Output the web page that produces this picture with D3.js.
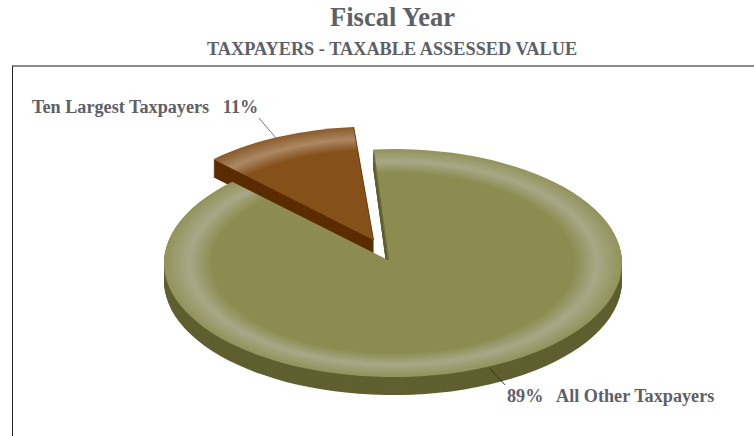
<!DOCTYPE html>
<html>
<head>
<meta charset="utf-8">
<script src="https://cdn.jsdelivr.net/npm/d3@7"></script>
<style>
  html, body { margin: 0; padding: 0; background: #fff; overflow: hidden; }
  svg { display: block; }
  text { font-family: "Liberation Serif", serif; font-weight: bold; fill: #5e6068; white-space: pre; }
</style>
</head>
<body>
<svg></svg>
<script>
let categories = ["Ten Largest Taxpayers", "All Other Taxpayers"];
let shares = [11, 89];
let topColors = ["#85501a", "#8c8c50"];
let ringColors = ["#ab8864", "#a8a888"];
let edgeColors = ["#8a5a28", "#92925a"];
let sideColors = ["#5c2d00", "#5f5f30"];

let w = 754;
let h = 436;
let cx = 393;
let cy = 263;
let rx = 229;
let squash = 0.498;
let depth = 18;

let svg = d3.select("svg").attr("width", w).attr("height", h);

// frame
svg.append("line").attr("x1", 12).attr("x2", w).attr("y1", 66).attr("y2", 66)
   .attr("stroke", "#666").attr("stroke-width", 1.5);
svg.append("line").attr("x1", 12.5).attr("x2", 12.5).attr("y1", 66).attr("y2", h)
   .attr("stroke", "#222").attr("stroke-width", 1);

svg.append("text").attr("x", 392.5).attr("y", 26).attr("text-anchor", "middle")
   .style("font-size", "26.5px").text("Fiscal Year");
svg.append("text").attr("x", 392).attr("y", 55).attr("text-anchor", "middle")
   .style("font-size", "18.3px").text("TAXPAYERS - TAXABLE ASSESSED VALUE");

let defs = svg.append("defs");
let start = -44.6 * Math.PI / 180;
let pie = d3.pie().sort(null).startAngle(start).endAngle(start + 2 * Math.PI);
let slices = pie(shares);

// the small slice is pulled out of the pie, the big one has its tip nudged
let shift = [[-19.5, -23], [0, 0]];
let radius = [228, rx];
let tip = [[0, 0], [-5, -3]];

slices.forEach((s, i) => {
    let g = defs.append("radialGradient")
        .attr("id", "bevel" + i)
        .attr("gradientUnits", "userSpaceOnUse")
        .attr("cx", 0).attr("cy", 0).attr("r", radius[i]);
    [[0, topColors[i]], [0.79, topColors[i]], [0.89, ringColors[i]], [1, edgeColors[i]]].forEach(st => {
        g.append("stop").attr("offset", st[0]).attr("stop-color", st[1]);
    });
});

let slicePath = (i) => {
    let arc = d3.arc().innerRadius(0).outerRadius(radius[i]);
    return arc(slices[i]).replace("L0,0Z", `L${tip[i][0]},${tip[i][1] / squash}Z`);
};

let drawSide = (i) => {
    svg.append("g").selectAll("path")
       .data(d3.range(depth, 0, -1))
       .enter()
       .append("path")
       .attr("d", slicePath(i))
       .attr("transform", (d) => `translate(${cx + shift[i][0]}, ${cy + shift[i][1] + d}) scale(1, ${squash})`)
       .attr("fill", sideColors[i]);
};

let drawTop = (i) => {
    svg.append("path")
       .attr("d", slicePath(i))
       .attr("transform", `translate(${cx + shift[i][0]}, ${cy + shift[i][1]}) scale(1, ${squash})`)
       .attr("fill", `url(#bevel${i})`);
};

let rim = (i, a) => [cx + shift[i][0] + radius[i] * Math.sin(a),
                     cy + shift[i][1] - radius[i] * Math.cos(a) * squash];

// back to front: the big top hides the lower part of the small slice's wall
drawSide(0);
drawSide(1);
drawTop(1);

// thin shaded edges along the gap
let bigEnd = rim(1, slices[0].endAngle);
svg.append("line")
   .attr("x1", bigEnd[0] + 0.8).attr("y1", bigEnd[1] + 4)
   .attr("x2", cx + tip[1][0] + 0.5).attr("y2", cy + tip[1][1])
   .attr("stroke", "#6c6c3c").attr("stroke-width", 1.2);

drawTop(0);

let smallEnd = rim(0, slices[0].endAngle);
svg.append("line")
   .attr("x1", smallEnd[0]).attr("y1", smallEnd[1])
   .attr("x2", cx + shift[0][0]).attr("y2", cy + shift[0][1])
   .attr("stroke", "#6e3d0c").attr("stroke-width", 1);

// leader lines and labels
let mid = (s) => (s.startAngle + s.endAngle) / 2;

let p0 = rim(0, mid(slices[0]));
svg.append("line").attr("x1", p0[0] - 2).attr("y1", p0[1] + 1)
   .attr("x2", p0[0] - 19).attr("y2", p0[1] - 19)
   .attr("stroke", "#777").attr("stroke-width", 1);
svg.append("text").attr("x", 32).attr("y", 113).style("font-size", "18.2px")
   .text(`${categories[0]}   ${shares[0]}%`);

let p1 = rim(1, mid(slices[1]));
svg.append("line").attr("x1", p1[0]).attr("y1", p1[1] + 1.4)
   .attr("x2", p1[0] + 16).attr("y2", p1[1] + 18.4)
   .attr("stroke", "#333").attr("stroke-width", 1);
svg.append("text").attr("x", 507).attr("y", 402).style("font-size", "18.2px")
   .text(`${shares[1]}%   ${categories[1]}`);
</script>
</body>
</html>
